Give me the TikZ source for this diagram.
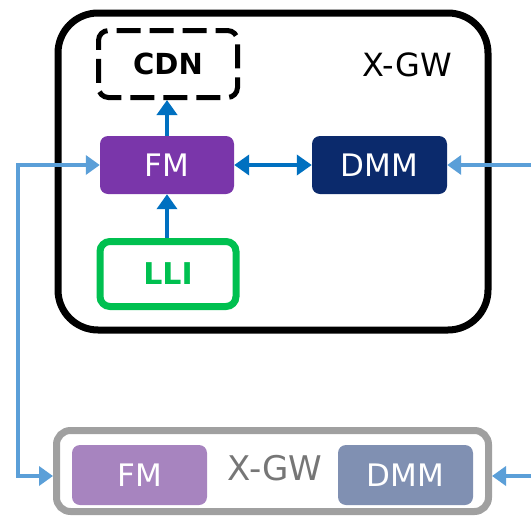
\documentclass[tikz,border=0pt]{standalone}
\usepackage{fontspec}
\setmainfont{DejaVu Sans}
\usetikzlibrary{arrows.meta}
\definecolor{fmpurple}{HTML}{7A36AA}
\definecolor{dmmnavy}{HTML}{0B2A6C}
\definecolor{fmlight}{HTML}{A784BF}
\definecolor{dmmlight}{HTML}{8090B2}
\definecolor{arrowblue}{HTML}{0070C0}
\definecolor{lineblue}{HTML}{5B9FD8}
\definecolor{lligreen}{HTML}{00C050}
\definecolor{boxgray}{HTML}{A0A0A0}
\definecolor{textgray}{HTML}{767676}
\tikzset{
  fnt/.style={font=\fontsize{#1}{#1}\selectfont},
  bfnt/.style={font=\fontsize{#1}{#1}\selectfont\bfseries},
  modbox/.style={rectangle, rounded corners=8pt, minimum width=134pt, minimum height=58pt, inner sep=0pt, text=white, fnt=31},
  dtip/.style={Triangle[width=20pt,length=15pt]},
  ltip/.style={Triangle[width=19pt,length=14pt]},
  darrow/.style={draw=arrowblue, line width=4pt, -{Triangle[width=20pt,length=15pt]}},
  larrow/.style={draw=lineblue, line width=4.5pt, -{Triangle[width=19pt,length=14pt]}},
}
\begin{document}
\begin{tikzpicture}[x=1pt,y=-1pt]
\useasboundingbox (0,0) rectangle (531,517);
% top X-GW
\node[draw=black, line width=7pt, rounded corners=40pt, minimum width=430pt, minimum height=317pt, inner sep=0pt] (gw) at (273,171.5) {};
\node[fnt=32] (gwlabel) at (407,65) {X-GW};
\node[draw=black, line width=5pt, dash pattern=on 24pt off 9pt, dash phase=12pt, rounded corners=10pt, minimum width=139pt, minimum height=67pt, inner sep=0pt, bfnt=29] (cdn) at (168,64) {CDN};
\node[modbox, fill=fmpurple] (fm) at (167,165) {FM};
\node[modbox, fill=dmmnavy, minimum width=135pt] (dmm) at (379.5,165) {DMM};
\node[draw=lligreen, line width=7pt, rounded corners=10pt, minimum width=136pt, minimum height=65pt, inner sep=0pt, text=lligreen, bfnt=30] (lli) at (168,274) {LLI};
\draw[darrow] (fm.north) -- (fm.north |- cdn.south);
\draw[darrow] (fm.south |- lli.north) -- (fm.south);
\draw[draw=arrowblue, line width=4pt, {Triangle[width=20pt,length=15pt]}-{Triangle[width=20pt,length=15pt]}] (fm.east) -- (dmm.west);
% bottom X-GW
\node[draw=boxgray, line width=7pt, rounded corners=14pt, minimum width=432pt, minimum height=81pt, inner sep=0pt] (gw2) at (272.5,471) {};
\node[modbox, fill=fmlight, minimum width=135pt, minimum height=60pt] (fm2) at (139.5,475) {FM};
\node[modbox, fill=dmmlight, minimum width=135pt, minimum height=60pt] (dmm2) at (405.5,475) {DMM};
\node[fnt=34, text=textgray] (gw2label) at (275,468) {X-GW};
% light blue connectors
\coordinate (lcorner1) at (18,165);
\coordinate (lcorner2) at (18,476);
\coordinate (rtop) at (531,165);
\coordinate (rbot) at (531,476);
\draw[draw=lineblue, line width=4.5pt, {Triangle[width=19pt,length=14pt]}-{Triangle[width=19pt,length=14pt]}] (fm.west) -- (lcorner1) -- (lcorner2) -- (gw2.west |- lcorner2);
\draw[larrow] (rtop) -- (dmm.east);
\draw[larrow] (rbot) -- (gw2.east |- rbot);
\end{tikzpicture}
\end{document}
